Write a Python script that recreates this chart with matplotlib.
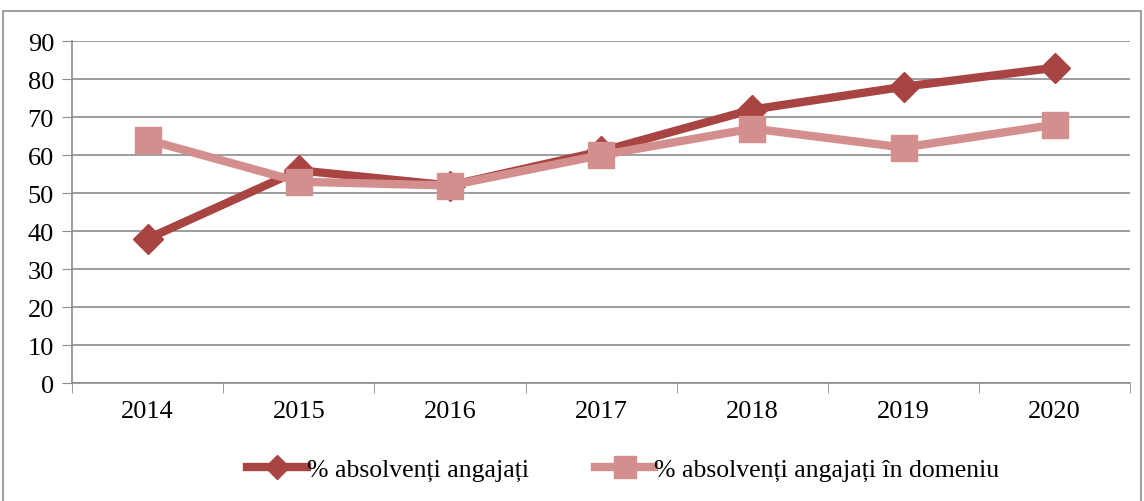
import matplotlib
matplotlib.use("Agg")
from matplotlib import pyplot as plt
from matplotlib.patches import Rectangle

ani = ['2014', '2015', '2016', '2017', '2018', '2019', '2020']
angajati = [38, 56, 52, 61, 72, 78, 83]
angajati_domeniu = [64, 53, 52, 60, 67, 62, 68]

plt.rcParams['font.family'] = ['Liberation Serif', 'DejaVu Serif']

fig = plt.figure(figsize=(11.44, 5.02), dpi=100)
ax = fig.add_axes([0.063, 0.235, 0.925, 0.681])

# cadrul exterior
fig.patches.append(Rectangle((0.003, -0.01), 0.994, 0.987, transform=fig.transFigure,
                             fill=False, edgecolor='#8c8c8c', linewidth=1.2))

x = list(range(len(ani)))
ax.plot(x, angajati, color='#a84442', linewidth=6, marker='D', markersize=15,
        label='% absolvenți angajați', zorder=3)
ax.plot(x, angajati_domeniu, color='#d38f8e', linewidth=6, marker='s', markersize=19,
        label='% absolvenți angajați în domeniu', zorder=4)

ax.set_xlim(-0.5, len(ani) - 0.5)
ax.set_ylim(0, 90)
ax.set_yticks(range(0, 91, 10))
ax.set_xticks(x)
ax.set_xticklabels(ani)
ax.set_xticks([i - 0.5 for i in range(len(ani) + 1)], minor=True)
ax.tick_params(axis='x', which='major', length=0, pad=12, labelsize=19)
ax.tick_params(axis='x', which='minor', length=7, color='#8c8c8c', direction='out')
ax.tick_params(axis='y', length=7, color='#8c8c8c', labelsize=19, pad=6)
ax.grid(axis='y', color='#8c8c8c', linewidth=1.2)
ax.set_axisbelow(True)
for s in ['top', 'right']:
    ax.spines[s].set_visible(False)
for s in ['left', 'bottom']:
    ax.spines[s].set_color('#8c8c8c')
    ax.spines[s].set_linewidth(1.2)

fig.legend(loc='center', bbox_to_anchor=(0.545, 0.062), ncol=2, frameon=False,
           fontsize=18.5, handlelength=2.3, handletextpad=0.0, columnspacing=2.6,
           markerscale=0.8)

fig.savefig('out.png', dpi=100)
